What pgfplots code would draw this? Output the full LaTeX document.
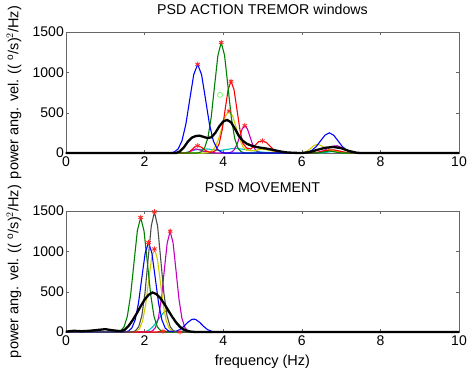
\documentclass[border=0pt]{standalone}
\usepackage{fontspec}
\setmainfont{Liberation Sans}
\usepackage{pgfplots}
\pgfplotsset{compat=1.18}
\definecolor{mblue}{rgb}{0,0,1}
\definecolor{mgreen}{rgb}{0,0.5,0}
\definecolor{mred}{rgb}{1,0,0}
\definecolor{mcyan}{rgb}{0,0.75,0.75}
\definecolor{mmag}{rgb}{0.75,0,0.75}
\definecolor{myel}{rgb}{0.8,0.8,0}
\definecolor{mgray}{rgb}{0.3,0.3,0.3}
\pgfplotsset{
  psd/.style={
    scale only axis, width=393pt, height=121pt,
    xmin=0, xmax=10, ymin=0, ymax=1500,
    xtick={0,2,4,6,8,10}, ytick={0,500,1000,1500},
    axis line style={black!60}, tick style={black!60},
    major tick length=3pt,
    /pgf/number format/assume math mode=true,
    tick label style={font=\fontsize{14}{16}\selectfont},
    yticklabel style={inner sep=2pt},
    label style={font=\fontsize{14.5}{16}\selectfont},
    title style={font=\fontsize{14.2}{16}\selectfont, at={(axis description cs:0.5,1.1405)}, anchor=center},
    ylabel style={at={(axis description cs:-0.1323,0.5)}, anchor=center},
    xlabel style={at={(axis description cs:0.5,-0.248)}, anchor=center},
    scaled y ticks=false,
    /pgf/number format/1000 sep={},
    every axis plot/.append style={line width=1.1pt},
    clip=false,
  },
  mean/.style={black, line width=2.3pt},
  pk/.style={only marks, mark=asterisk, mark size=2.6pt, red!85!white, mark options={line width=0.8pt}},
}
\begin{document}
\begin{tikzpicture}
\useasboundingbox (-66pt,-221pt) rectangle (402pt,153pt);
% ---------------- top panel ----------------
\begin{axis}[psd, at={(0,0)}, anchor=south west,
  title={PSD ACTION TREMOR windows},
  ylabel={power ang. vel. (( $^{\mathrm{o}}$/s)$^2$/Hz)}]
\addplot[mcyan] coordinates {(0,0)(3.0,0)(3.3,40)(3.6,50)(3.9,30)(4.3,60)(4.6,40)(5.0,10)(5.4,0)(6.5,0)(6.8,20)(7.1,0)(10,0)};
\addplot[mmag] coordinates {(0,0)(3.1,0)(3.2,30)(3.3,50)(3.4,40)(3.5,20)(3.7,5)(3.9,0)(4.1,0)(4.16,4)(4.225,15)(4.29,46)(4.355,110)(4.42,206)(4.485,300)(4.55,340)(4.615,300)(4.68,206)(4.745,110)(4.81,46)(4.875,15)(4.94,4)(5.0,0)(6.4,0)(6.6,40)(6.8,85)(6.9,90)(7.0,70)(7.2,20)(7.3,0)(10,0)};
\addplot[myel] coordinates {(0,0)(3.5,0)(3.61,6)(3.7,23)(3.79,70)(3.88,169)(3.97,315)(4.06,459)(4.15,520)(4.24,459)(4.33,315)(4.42,169)(4.51,70)(4.6,35)(4.7,28)(4.8,30)(5.0,50)(5.2,30)(5.4,5)(5.5,0)(6.0,0)(6.1,15)(6.2,45)(6.3,90)(6.4,110)(6.5,90)(6.6,60)(6.7,40)(6.8,30)(6.9,20)(7.1,5)(7.2,0)(10,0)};
\addplot[mred] coordinates {(0,0)(3.1,0)(3.2,40)(3.3,85)(3.35,90)(3.45,70)(3.55,30)(3.65,10)(3.75,15)(3.825,39)(3.9,120)(3.975,289)(4.05,540)(4.125,785)(4.2,890)(4.275,785)(4.35,540)(4.425,289)(4.5,120)(4.6,60)(4.7,50)(4.8,90)(4.9,140)(5.0,150)(5.1,130)(5.2,80)(5.3,30)(5.4,8)(5.5,0)(6.3,0)(6.6,30)(6.8,40)(7.0,20)(7.2,0)(10,0)};
\addplot[mgreen] coordinates {(0,0)(3.35,0)(3.44,15)(3.525,60)(3.61,185)(3.695,445)(3.78,831)(3.865,1209)(3.95,1370)(4.035,1209)(4.12,831)(4.205,445)(4.29,185)(4.375,60)(4.46,15)(4.55,0)(6.4,0)(6.7,25)(7.0,0)(10,0)};
\addplot[mblue] coordinates {(0,0)(2.65,0)(2.75,12)(2.85,48)(2.95,149)(3.05,357)(3.15,667)(3.25,971)(3.35,1100)(3.45,971)(3.55,667)(3.65,357)(3.75,149)(3.85,48)(3.95,12)(4.05,0)(6.0,0)(6.15,11)(6.26,34)(6.37,81)(6.48,152)(6.59,221)(6.7,250)(6.81,221)(6.92,152)(7.03,81)(7.14,34)(7.25,11)(7.36,3)(7.5,0)(10,0)};
\addplot[mean] coordinates {(0,0)(2.8,0)(2.9,20)(3.0,70)(3.1,140)(3.2,190)(3.3,210)(3.4,215)(3.5,200)(3.6,185)(3.7,195)(3.8,250)(3.9,330)(4.0,390)(4.1,410)(4.2,380)(4.3,300)(4.4,210)(4.5,150)(4.6,115)(4.7,95)(4.8,80)(4.9,70)(5.0,62)(5.1,55)(5.2,45)(5.3,35)(5.4,25)(5.5,15)(5.6,8)(5.8,2)(6.0,0)(6.2,10)(6.4,40)(6.6,65)(6.8,75)(7.0,60)(7.2,25)(7.4,3)(7.5,0)(10,0)};
\addplot[pk] coordinates {(3.35,1100)(3.95,1370)(4.2,890)(4.15,520)(4.55,340)(5.0,150)(3.35,90)};
\addplot[only marks, mark=o, mark size=2.5pt, green!70!white, mark options={line width=0.6pt}] coordinates {(3.92,720)};
\end{axis}
% ---------------- bottom panel ----------------
\begin{axis}[psd, at={(0,-179pt)}, anchor=south west,
  title={PSD MOVEMENT},
  xlabel={frequency (Hz)},
  ylabel={power ang. vel. (( $^{\mathrm{o}}$/s)$^2$/Hz)}]
\addplot[mcyan] coordinates {(0,0)(2.0,0)(2.1,20)(2.2,60)(2.3,120)(2.4,190)(2.5,250)(2.55,260)(2.6,250)(2.7,190)(2.8,110)(2.9,50)(3.0,15)(3.1,0)(10,0)};
\addplot[mmag] coordinates {(0,0)(2.1,0)(2.2,14)(2.275,55)(2.35,169)(2.425,406)(2.5,758)(2.575,1103)(2.65,1250)(2.725,1103)(2.8,758)(2.875,406)(2.95,169)(3.025,55)(3.1,14)(3.2,0)(10,0)};
\addplot[myel] coordinates {(0,0)(1.7,0)(1.8,11)(1.875,45)(1.95,139)(2.025,334)(2.1,625)(2.175,909)(2.25,1030)(2.325,909)(2.4,625)(2.475,334)(2.55,139)(2.625,45)(2.7,11)(2.8,0)(10,0)};
\addplot[mred] coordinates {(0,0)(2.3,0)(2.47,12)(2.6,4)(2.75,6)(2.9,3)(3.0,0)(10,0)};
\addplot[mgreen] coordinates {(0,0)(1.3,0)(1.39,16)(1.475,62)(1.56,192)(1.645,461)(1.73,861)(1.815,1253)(1.9,1420)(1.985,1253)(2.07,861)(2.155,461)(2.24,192)(2.325,62)(2.41,16)(2.5,0)(10,0)};
\addplot[mblue] coordinates {(0,0)(1.5,0)(1.59,12)(1.675,49)(1.76,150)(1.845,360)(1.93,673)(2.015,980)(2.1,1110)(2.185,980)(2.27,673)(2.355,360)(2.44,150)(2.525,49)(2.61,12)(2.7,5)(2.8,10)(2.9,30)(3.0,70)(3.1,120)(3.2,155)(3.25,160)(3.3,155)(3.4,120)(3.5,70)(3.6,30)(3.7,10)(3.8,0)(10,0)};
\addplot[mgray] coordinates {(0,0)(1.69,0)(1.77,17)(1.85,65)(1.93,202)(2.01,484)(2.09,904)(2.17,1315)(2.25,1490)(2.33,1315)(2.41,904)(2.49,484)(2.57,202)(2.65,65)(2.73,17)(2.81,0)(10,0)};
\addplot[mean] coordinates {(0,5)(0.2,15)(0.4,10)(0.6,15)(0.8,25)(1.0,35)(1.2,20)(1.4,10)(1.5,30)(1.6,80)(1.7,150)(1.8,230)(1.9,320)(2.0,400)(2.1,460)(2.2,490)(2.3,470)(2.4,420)(2.5,350)(2.6,270)(2.7,190)(2.8,120)(2.9,65)(3.0,30)(3.1,12)(3.2,3)(3.3,0)(10,0)};
\addplot[pk] coordinates {(1.9,1420)(2.25,1490)(2.1,1110)(2.25,1030)(2.65,1250)(2.47,10)(2.9,0)};
\end{axis}
\end{tikzpicture}
\end{document}
